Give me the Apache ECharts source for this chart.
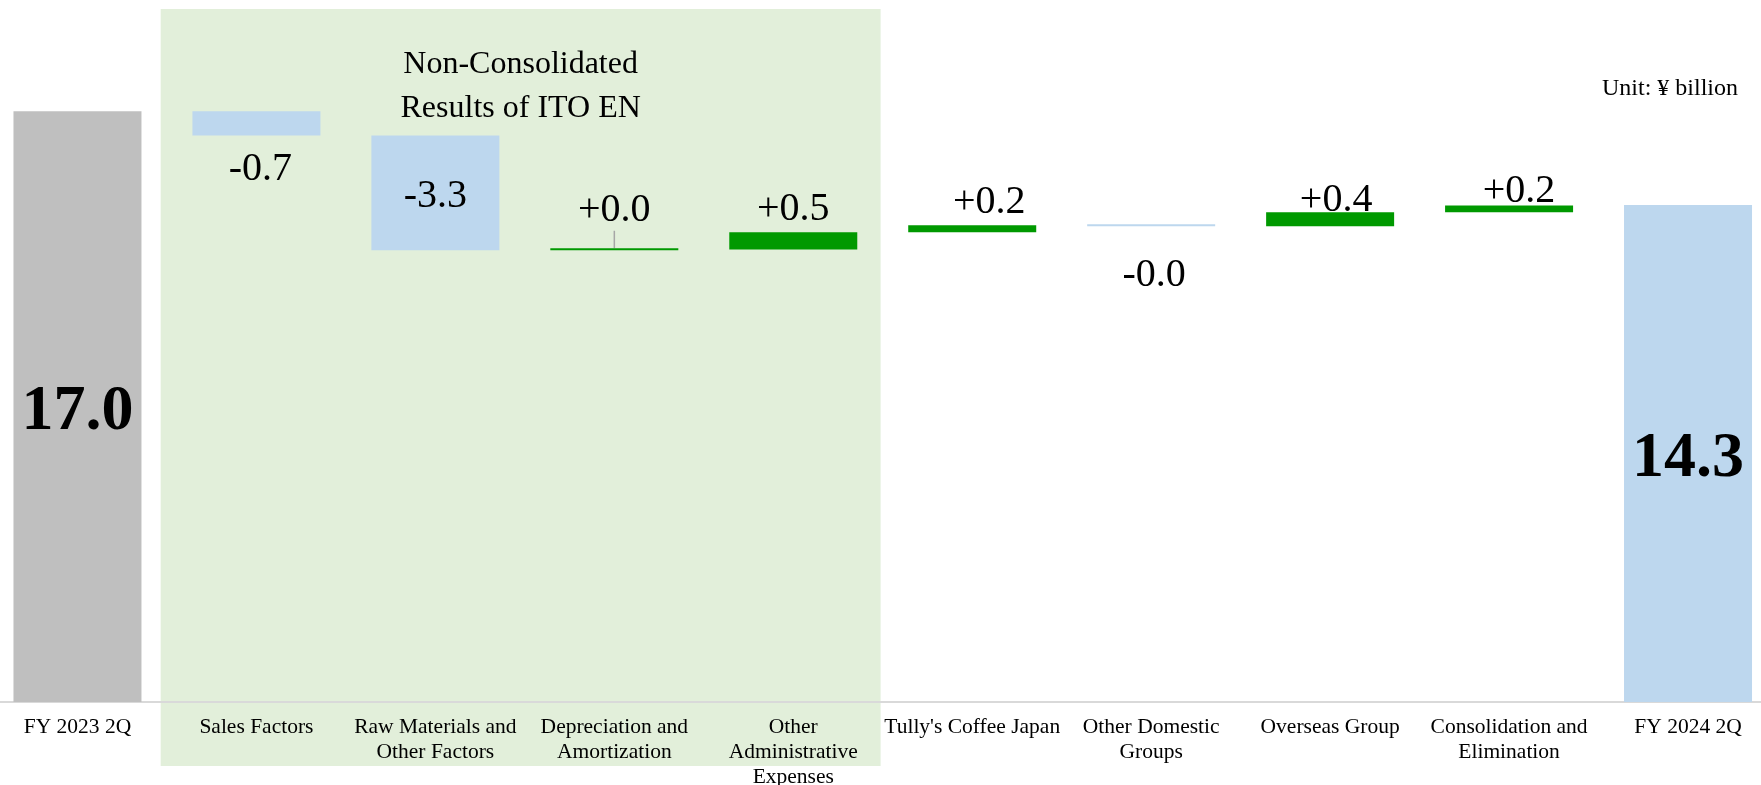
<!DOCTYPE html>
<html>
<head>
<meta charset="utf-8">
<script src="https://cdn.jsdelivr.net/npm/echarts@6/dist/echarts.min.js"></script>
<style>
  html, body { margin: 0; padding: 0; background: #fff; overflow: hidden; }
  #chart { width: 1761px; height: 785px; }
</style>
</head>
<body>
<div id="chart"></div>
<script>
const FONT = "'Liberation Serif', 'Times New Roman', serif"

const categories = [
  "FY 2023 2Q",
  "Sales Factors",
  "Raw Materials and\nOther Factors",
  "Depreciation and\nAmortization",
  "Other\nAdministrative\nExpenses",
  "Tully's Coffee Japan",
  "Other Domestic\nGroups",
  "Overseas Group",
  "Consolidation and\nElimination",
  "FY 2024 2Q",
]
const startValue = 17.0
const endValue = 14.3
// changes between the two totals (¥ billion)
const changes = [-0.7, -3.3, 0.02, 0.5, 0.2, -0.03, 0.4, 0.2]

const GRAY = "#BFBFBF"
const BLUE = "#BDD7EE"
const GREEN = "#009900"

// label nudges [dx, dy] per bar, like the hand-placed labels in the original
const labelShift = [[0, 0], [4, 0], [0, -2], [0, -15], [0, 0], [17, 0], [3, 16], [6, 11], [10, 9], [0, 0]]
const TEXT_DROP = 5.5

// build invisible base + visible delta for the waterfall
const base = [0]
const delta = [startValue]
let cum = startValue
changes.forEach((c) => {
  base.push(c >= 0 ? cum : cum + c)
  delta.push(Math.abs(c))
  cum += c
})
base.push(0)
delta.push(endValue)

const last = categories.length - 1
const deltaData = delta.map((v, i) => {
  if (i === 0 || i === last) {
    return {
      value: v,
      itemStyle: { color: i === 0 ? GRAY : BLUE },
      label: {
        position: "inside",
        fontSize: 64,
        fontWeight: "bold",
        formatter: (i === 0 ? startValue : endValue).toFixed(1),
      },
    }
  }
  const c = changes[i - 1]
  const txt = (c >= 0 ? "+" : "-") + Math.abs(c).toFixed(1)
  return {
    value: v,
    itemStyle: { color: c >= 0 ? GREEN : BLUE },
    label: {
      position: i === 2 ? "inside" : c >= 0 ? "top" : "bottom",
      formatter: txt,
    },
    labelLine: i === 3
      ? { show: true, lineStyle: { color: "#A6A6A6", width: 1.5 } }
      : { show: false },
  }
})

const chart = echarts.init(document.getElementById("chart"))

chart.setOption({
  animation: false,
  backgroundColor: "#fff",
  title: {
    text: "Unit: ¥ billion",
    right: 18,
    top: 72,
    textStyle: { fontFamily: FONT, fontSize: 24, fontWeight: "normal", color: "#000" },
  },
  grid: { left: -12, right: -16.5, top: 7, bottom: 83, outerBoundsMode: "none", containLabel: false },
  xAxis: {
    type: "category",
    data: categories,
    axisTick: { show: false },
    axisLine: { lineStyle: { color: "#D9D9D9", width: 2 } },
    axisLabel: {
      interval: 0,
      fontFamily: FONT,
      fontSize: 21.5,
      lineHeight: 25,
      margin: 13,
      color: "#000",
    },
    z: 3,
  },
  yAxis: { type: "value", min: 0, max: 20, show: false },
  series: [
    {
      type: "bar",
      stack: "wf",
      barWidth: 128,
      data: base,
      itemStyle: { color: "transparent" },
      silent: true,
    },
    {
      type: "bar",
      stack: "wf",
      barWidth: 128,
      barMinHeight: 2,
      data: deltaData,
      label: {
        show: true,
        distance: 8,
        fontFamily: FONT,
        fontSize: 40,
        color: "#000",
      },
      labelLayout: (p) => ({
        dx: labelShift[p.dataIndex][0],
        dy: labelShift[p.dataIndex][1] + TEXT_DROP,
      }),
      z: 3,
    },
  ],
})

// green panel behind the non-consolidated factors
const c1 = chart.convertToPixel({ xAxisIndex: 0 }, categories[1])
const c4 = chart.convertToPixel({ xAxisIndex: 0 }, categories[4])
const band = (c4 - c1) / 3
const left = c1 - band * 0.535
const right = c4 + band * 0.488

chart.setOption({
  graphic: [
    {
      type: "rect",
      z: -10,
      silent: true,
      shape: { x: left, y: 9, width: right - left, height: 757 },
      style: { fill: "#E2EFDA" },
    },
    {
      type: "text",
      z: -5,
      silent: true,
      x: (left + right) / 2,
      y: 43,
      style: {
        text: "Non-Consolidated\nResults of ITO EN",
        font: "32px " + FONT,
        lineHeight: 44,
        textAlign: "center",
        textVerticalAlign: "top",
        fill: "#000",
      },
    },
  ],
})
</script>
</body>
</html>
